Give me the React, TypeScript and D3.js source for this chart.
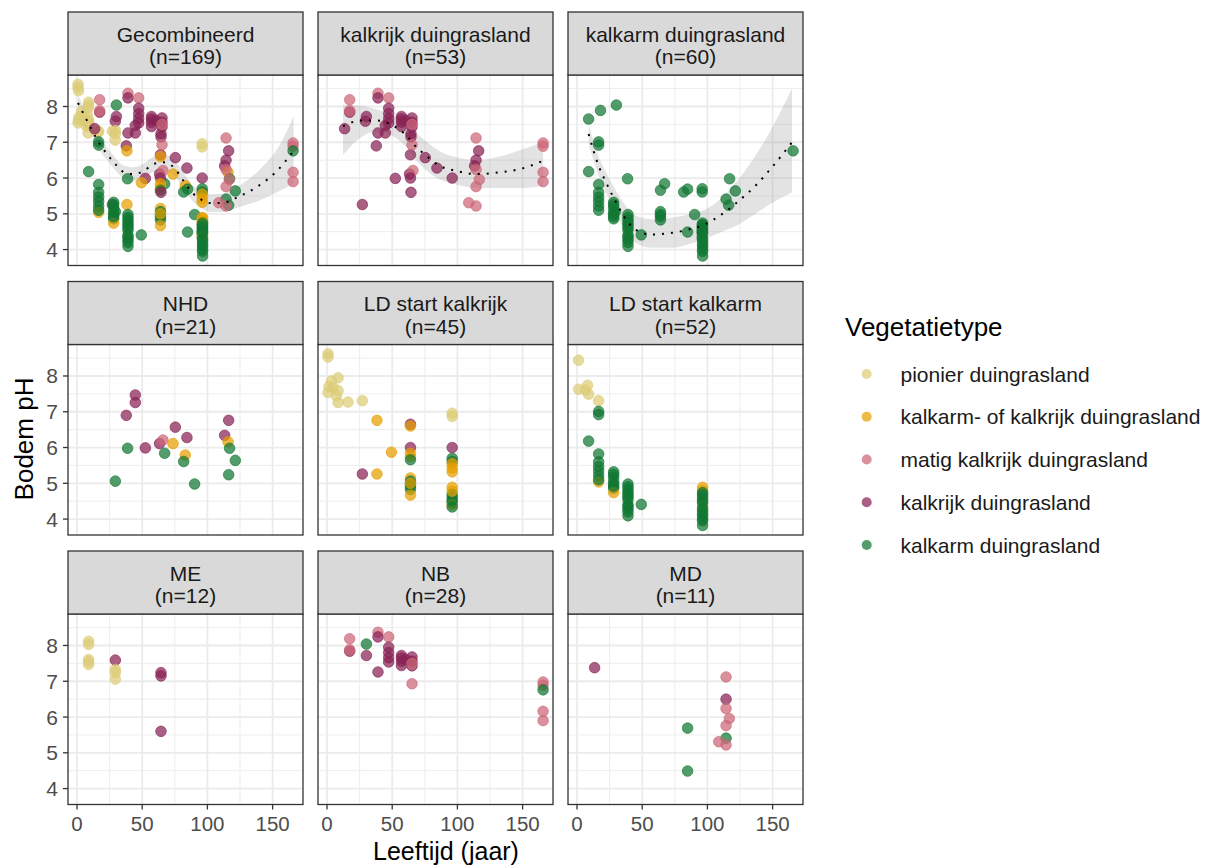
import React from 'react';
import * as d3 from 'd3';

// [leeftijd (jaar), bodem pH, index vegetatietype]
type Pt = [number, number, number];
// [leeftijd, fit, ondergrens, bovengrens]
type Fit = [number, number, number, number];

const vegetatietypen = [
  'pionier duingrasland',
  'kalkarm- of kalkrijk duingrasland',
  'matig kalkrijk duingrasland',
  'kalkrijk duingrasland',
  'kalkarm duingrasland',
];
const kleuren = ['#DDCC77', '#E69F00', '#CC6677', '#882255', '#117733'];

const ptsNHD: Pt[] = [
  [44.7, 7.47, 3], [44.7, 7.26, 3], [37.8, 6.9, 3], [38.8, 5.98, 4], [29.4, 5.06, 4],
  [52.4, 5.99, 3], [63.3, 6.11, 3], [65.9, 6.21, 2], [73.6, 6.11, 1], [75.4, 6.57, 3],
  [67.2, 5.84, 4], [83.0, 5.79, 1], [81.8, 5.61, 4], [84.3, 6.28, 3], [90.2, 4.98, 4],
  [113.2, 6.34, 3], [116.3, 6.76, 3], [115.8, 6.16, 1], [117.0, 5.98, 4], [121.4, 5.64, 4],
  [116.3, 5.24, 4],
];

const ptsLDkalkrijk: Pt[] = [
  [0.8, 8.62, 0], [0.8, 8.53, 0], [3.4, 7.86, 0], [8.5, 7.95, 0], [0.8, 7.54, 0],
  [4.6, 7.68, 0], [8.5, 7.59, 0], [7.2, 7.45, 0], [8.5, 7.26, 0], [16.1, 7.27, 0],
  [27.1, 7.31, 0], [1.5, 7.7, 0],
  [38.3, 6.76, 1], [49.4, 5.87, 1], [38.3, 5.26, 1], [27.1, 5.26, 3],
  [64, 6.65, 3], [64, 6.6, 1], [64, 6.0, 3], [64, 5.84, 1], [64, 5.75, 1], [64, 5.66, 4],
  [64, 5.15, 1], [64, 5.06, 4], [64, 4.92, 4], [64, 4.83, 4], [64, 4.67, 1], [64, 4.98, 4],
  [64, 5.0, 1],
  [96, 6.96, 0], [96, 6.87, 0], [96, 6.0, 3], [96, 5.7, 4], [96, 5.61, 4], [96, 5.43, 1],
  [96, 5.32, 1], [96, 4.89, 1], [96, 4.69, 4], [96, 4.6, 4], [96, 4.46, 4], [96, 4.41, 1],
  [96, 4.34, 4], [96, 5.55, 1], [96, 4.52, 4], [96, 4.78, 1],
];

const ptsLDkalkarm: Pt[] = [
  [1.2, 8.44, 0], [1.2, 7.63, 0], [8.1, 7.74, 0], [8.9, 7.49, 0], [6.5, 7.6, 0], [16.6, 7.31, 0],
  [16.6, 7.01, 4], [16.6, 6.92, 4], [8.9, 6.18, 4], [16.6, 5.82, 4], [16.6, 5.47, 4],
  [16.6, 5.22, 4], [16.6, 5.04, 1], [16.6, 5.35, 4], [16.6, 5.6, 4], [16.6, 5.1, 4],
  [28.1, 5.32, 4], [28.1, 5.17, 4], [28.1, 4.98, 4], [28.1, 4.86, 4], [28.1, 4.74, 1],
  [28.1, 5.25, 4], [28.1, 5.05, 4], [28.1, 4.92, 4],
  [39.1, 4.98, 4], [39.1, 4.83, 4], [39.1, 4.69, 4], [39.1, 4.55, 4], [39.1, 4.41, 4],
  [39.1, 4.28, 4], [39.1, 4.09, 4], [39.1, 4.9, 4], [39.1, 4.62, 4], [39.1, 4.35, 4],
  [39.1, 4.2, 4], [39.1, 4.75, 4],
  [49.3, 4.41, 4],
  [96.3, 4.89, 1], [96.3, 4.8, 1], [96.3, 4.74, 4], [96.3, 4.6, 4], [96.3, 4.37, 1],
  [96.3, 4.46, 4], [96.3, 4.23, 4], [96.3, 4.09, 4], [96.3, 3.95, 4], [96.3, 3.82, 4],
  [96.3, 4.0, 4], [96.3, 4.15, 4], [96.3, 4.3, 4], [96.3, 4.52, 4], [96.3, 4.68, 4],
];

const ptsME: Pt[] = [
  [8.9, 8.12, 0], [8.9, 8.03, 0], [8.9, 7.61, 0], [8.9, 7.47, 0], [8.9, 7.55, 0],
  [29.4, 7.59, 3], [29.4, 7.33, 0], [29.4, 7.24, 0], [29.4, 7.06, 0],
  [64.4, 7.24, 3], [64.4, 7.15, 3], [64.4, 5.6, 3],
];

const ptsNB: Pt[] = [
  [17.4, 8.19, 2], [17.4, 7.84, 3], [17.4, 7.88, 2], [30.2, 8.04, 4], [30.2, 7.72, 3],
  [39.1, 8.37, 2], [39.1, 8.24, 3], [39.1, 7.26, 3], [47.3, 8.24, 2], [47.3, 7.95, 3],
  [47.3, 7.66, 3], [47.3, 7.54, 3], [47.3, 7.8, 3], [57.1, 7.72, 3], [57.1, 7.56, 3],
  [57.1, 7.44, 3], [60.4, 7.61, 3], [65.2, 7.68, 3], [65.2, 7.56, 3], [65.2, 7.43, 3],
  [65.2, 6.93, 2], [165.7, 6.98, 2], [165.7, 6.89, 2], [165.7, 6.76, 4], [165.7, 6.16, 2],
  [165.7, 5.9, 2], [65.2, 7.5, 2], [57.1, 7.65, 3],
];

const ptsMD: Pt[] = [
  [13.5, 7.38, 3], [114.3, 7.12, 2], [114.3, 6.5, 3], [114.3, 6.24, 2], [116.8, 5.96, 2],
  [114.3, 5.76, 2], [114.3, 5.41, 4], [108.7, 5.31, 2], [114.3, 5.22, 2], [84.8, 5.69, 4],
  [84.8, 4.49, 4],
];

// alleen zichtbaar in het paneel kalkarm duingrasland
const ptsKalkarmExtra: Pt[] = [[8.9, 7.65, 4], [18, 7.89, 4]];

const fitGecombineerd: Fit[] = [
  [0.8, 8.1, 7.88, 8.32], [9, 7.51, 7.32, 7.7], [16.6, 7.0, 6.82, 7.18], [23, 6.67, 6.5, 6.85],
  [29.4, 6.39, 6.22, 6.57], [35.7, 6.17, 6.0, 6.35], [43.4, 6.11, 5.92, 6.3], [51.1, 6.2, 6.0, 6.4],
  [58.7, 6.39, 6.17, 6.6], [66.4, 6.44, 6.22, 6.66], [74.1, 6.3, 6.08, 6.52], [81.7, 5.92, 5.7, 6.15],
  [88.2, 5.6, 5.38, 5.82], [94.6, 5.41, 5.18, 5.65], [102.2, 5.3, 5.05, 5.55], [112.4, 5.31, 5.05, 5.57],
  [122.7, 5.46, 5.17, 5.75], [132.9, 5.64, 5.28, 6.0], [143.1, 5.88, 5.42, 6.35], [153.4, 6.2, 5.6, 6.8],
  [166.1, 6.76, 5.85, 7.72],
];

const fitKalkrijk: Fit[] = [
  [12.3, 7.45, 6.65, 8.05], [26.4, 7.61, 7.15, 8.02], [37.9, 7.61, 7.3, 7.92], [48.1, 7.51, 7.22, 7.8],
  [60.9, 7.19, 6.85, 7.52], [68.6, 6.86, 6.48, 7.25], [76.2, 6.62, 6.22, 7.02], [86.4, 6.34, 5.96, 6.75],
  [99.2, 6.2, 5.82, 6.58], [114.6, 6.11, 5.72, 6.5], [132.4, 6.16, 5.72, 6.6], [147.8, 6.25, 5.72, 6.78],
  [165.7, 6.48, 5.78, 7.0],
];

const fitKalkarm: Fit[] = [
  [8.9, 7.23, 6.95, 7.5], [12.7, 6.76, 6.5, 7.02], [16.6, 6.34, 6.08, 6.6], [21.7, 5.92, 5.64, 6.2],
  [28.1, 5.45, 5.14, 5.76], [35.8, 4.94, 4.6, 5.3], [44.8, 4.56, 4.2, 4.95], [57.5, 4.42, 4.05, 4.85],
  [72.9, 4.47, 4.05, 4.9], [85.6, 4.56, 4.15, 4.98], [98.4, 4.71, 4.3, 5.12], [111.2, 4.99, 4.5, 5.45],
  [124, 5.36, 4.7, 5.97], [136.7, 5.78, 5.0, 6.62], [149.5, 6.3, 5.3, 7.4], [164.9, 7.0, 5.6, 8.5],
];

const panelTitels = [
  'Gecombineerd', 'kalkrijk duingrasland', 'kalkarm duingrasland',
  'NHD', 'LD start kalkrijk', 'LD start kalkarm',
  'ME', 'NB', 'MD',
];
const panelN = [169, 53, 60, 21, 45, 52, 12, 28, 11];
const xTicks = [0, 50, 100, 150];
const yTicks = [4, 5, 6, 7, 8];

const alle = [...ptsNHD, ...ptsLDkalkrijk, ...ptsLDkalkarm, ...ptsME, ...ptsNB, ...ptsMD];
const panelPts: Pt[][] = [
  alle,
  alle.filter((d) => d[2] === 2 || d[2] === 3),
  [...ptsKalkarmExtra, ...alle.filter((d) => d[2] === 4)],
  ptsNHD, ptsLDkalkrijk, ptsLDkalkarm, ptsME, ptsNB, ptsMD,
];
const panelFits: (Fit[] | null)[] = [fitGecombineerd, fitKalkrijk, fitKalkarm, null, null, null, null, null, null];

// layout
const W = 1217;
const H = 865;
const colX = [68, 318, 568];
const rowY = [75, 344.5, 614];
const pw = 235;
const ph = 190.5;
const stripH = 63;
const font = '"Liberation Sans", Arial, Helvetica, sans-serif';

const x = d3.scaleLinear().domain([-6.9, 173.3]).range([0, pw]);
const y = d3.scaleLinear().domain([3.555, 8.88]).range([ph, 0]);

const minor = (ticks: number[], dom: number[]) => {
  const step = ticks[1] - ticks[0];
  const ext = [ticks[0] - step, ...ticks, ticks[ticks.length - 1] + step];
  return d3.pairs(ext).map(([a, b]) => (a + b) / 2).filter((v) => v > dom[0] && v < dom[1]);
};
const xMinor = minor(xTicks, x.domain());
const yMinor = minor(yTicks, y.domain());

const fitLine = d3.line<Fit>().x((d) => x(d[0])).y((d) => y(d[1])).curve(d3.curveMonotoneX);
const fitBand = d3.area<Fit>().x((d) => x(d[0])).y0((d) => y(d[2])).y1((d) => y(d[3])).curve(d3.curveMonotoneX);

const Panel = ({ i }: { i: number }) => {
  const col = i % 3;
  const row = Math.floor(i / 3);
  const fit = panelFits[i];
  return (
    <g transform={`translate(${colX[col]},${rowY[row]})`}>
      <rect width={pw} height={ph} fill="#fff" />
      {xMinor.map((v) => (
        <line key={'xm' + v} x1={x(v)} x2={x(v)} y1={0} y2={ph} stroke="#EBEBEB" strokeWidth={0.9} />
      ))}
      {yMinor.map((v) => (
        <line key={'ym' + v} x1={0} x2={pw} y1={y(v)} y2={y(v)} stroke="#EBEBEB" strokeWidth={0.9} />
      ))}
      {xTicks.map((v) => (
        <line key={'xM' + v} x1={x(v)} x2={x(v)} y1={0} y2={ph} stroke="#EBEBEB" strokeWidth={1.8} />
      ))}
      {yTicks.map((v) => (
        <line key={'yM' + v} x1={0} x2={pw} y1={y(v)} y2={y(v)} stroke="#EBEBEB" strokeWidth={1.8} />
      ))}
      {fit && <path d={fitBand(fit) || ''} fill="#999999" fillOpacity={0.28} />}
      {panelPts[i].map((d, k) => (
        <circle
          key={k}
          cx={x(d[0])}
          cy={y(d[1])}
          r={5.3}
          fill={kleuren[d[2]]}
          fillOpacity={0.72}
          stroke={kleuren[d[2]]}
          strokeOpacity={0.8}
          strokeWidth={0.8}
        />
      ))}
      {fit && (
        <path d={fitLine(fit) || ''} fill="none" stroke="#000" strokeWidth={2} strokeDasharray="2 7" />
      )}
      <rect width={pw} height={ph} fill="none" stroke="#333333" strokeWidth={1.3} />
      <rect y={-stripH} width={pw} height={stripH} fill="#D9D9D9" stroke="#333333" strokeWidth={1.3} />
      <text x={pw / 2} y={-stripH + 29.5} textAnchor="middle" fontSize={21} fill="#1A1A1A">
        {panelTitels[i]}
      </text>
      <text x={pw / 2} y={-stripH + 52} textAnchor="middle" fontSize={21} fill="#1A1A1A">
        {`(n=${panelN[i]})`}
      </text>
      {col === 0 &&
        yTicks.map((v) => (
          <g key={'yt' + v} transform={`translate(0,${y(v)})`}>
            <line x1={-5} x2={0} stroke="#333333" strokeWidth={1.3} />
            <text x={-10} y={7.5} textAnchor="end" fontSize={21} fill="#4D4D4D">
              {v}
            </text>
          </g>
        ))}
      {row === 2 &&
        xTicks.map((v) => (
          <g key={'xt' + v} transform={`translate(${x(v)},${ph})`}>
            <line y1={0} y2={5} stroke="#333333" strokeWidth={1.3} />
            <text y={26} textAnchor="middle" fontSize={20.5} fill="#4D4D4D">
              {v}
            </text>
          </g>
        ))}
    </g>
  );
};

const App = () => {
  return (
    <svg
      width={W}
      height={H}
      style={{ position: 'absolute', left: 0, top: 0, background: '#fff' }}
      fontFamily={font}
    >
      <rect width={W} height={H} fill="#fff" />
      {panelTitels.map((_, i) => (
        <Panel key={i} i={i} />
      ))}
      <text x={446} y={859.5} textAnchor="middle" fontSize={25} fill="#000">
        Leeftijd (jaar)
      </text>
      <text transform="translate(33,439) rotate(-90)" textAnchor="middle" fontSize={26} fill="#000">
        Bodem pH
      </text>
      <text x={845} y={336} fontSize={26} fill="#000">
        Vegetatietype
      </text>
      {vegetatietypen.map((t, k) => (
        <g key={t} transform={`translate(0,${374 + k * 42.75})`}>
          <circle cx={866.7} cy={0} r={5} fill={kleuren[k]} fillOpacity={0.72} />
          <text x={900.5} y={7.5} fontSize={21} fill="#1A1A1A">
            {t}
          </text>
        </g>
      ))}
    </svg>
  );
};

export default App;
